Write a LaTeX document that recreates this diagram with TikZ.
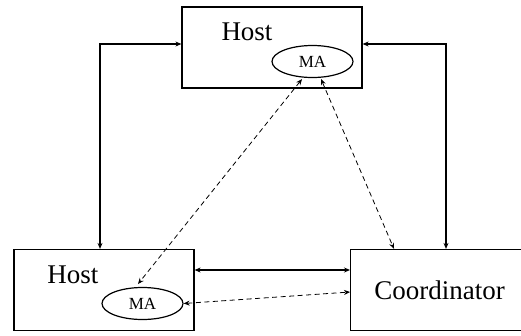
\documentclass[tikz,border=0pt]{standalone}
\usepackage{fontspec}
\setmainfont{Liberation Serif}
\usetikzlibrary{%
	arrows.meta,%
	shapes.geometric,%
	positioning,%
}
\tikzset{
	>={Stealth[length=6pt,width=5pt]},%
	hostbox/.style={%
			draw,%
			rectangle,%
			line width=1.2pt,%
			minimum width=180pt,%
			minimum height=81pt,%
			font={\fontsize{27}{27}\selectfont}},%
	agent/.style={%
			draw,%
			ellipse,%
			line width=1.2pt,%
			inner sep=0pt,%
			minimum width=81pt,%
			minimum height=32pt,%
			font={\fontsize{17}{17}\selectfont}},%
	link/.style={<->, line width=1.1pt},%
	msg/.style={<->, dash pattern=on 5pt off 3.5pt, line width=0.8pt},%
}

\begin{document}
\begin{tikzpicture}[x=1pt, y=-1pt]%
	\clip (0,0) rectangle (521,335);
	\node[hostbox] (tophost) at (272,47.5) {};
	\node[hostbox] (lefthost) at (104,290) {};
	\node[hostbox, minimum width=178pt, anchor=west] (coord) at (350,290) {Coordinator};
	\node[font={\fontsize{27}{27}\selectfont}] (toplabel) at (247,32) {Host};
	\node[font={\fontsize{27}{27}\selectfont}] (leftlabel) at (73,275) {Host};
	\node[agent] (topma) at (312.5,61.5) {MA};
	\node[agent] (leftma) at (142.5,303.5) {MA};

	\draw[link] (tophost.west |- 0,44) -| (lefthost.north -| 100,0);
	\draw[link] (tophost.east |- 0,44) -| (coord.north -| 446,0);
	\draw[link] (lefthost.east |- 0,270) -- (coord.west |- 0,270);

	\draw[msg] (topma.south -| 302,0) ++(0,1) -- (138,284);
	\draw[msg] (321,79) -- (coord.north -| 394,0);
	\draw[msg] (leftma.east) -- (350,292);
\end{tikzpicture}
\end{document}
